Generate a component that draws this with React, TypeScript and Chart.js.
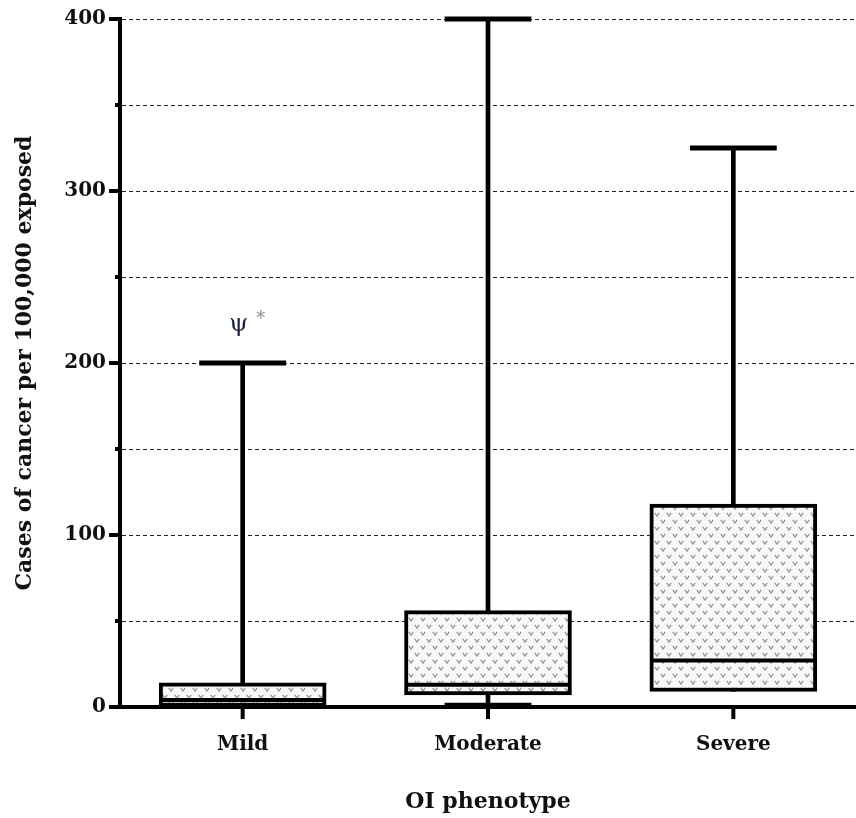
import { useEffect, useRef } from 'react';
import { Chart, registerables } from 'chart.js';

Chart.register(...registerables);

// Five-number summaries per OI phenotype (cases per 100,000 exposed)
const categories = ['Mild', 'Moderate', 'Severe'];
const minValues = [0, 1, 9];
const q1Values = [0, 7, 9];
const medianValues = [4, 13, 27];
const q3Values = [14, 56, 118];
const maxValues = [200, 400, 325];

// Axis settings
const yMin = 0;
const yMax = 400;
const yStep = 50;
const yLabelStep = 100;

// Significance markers above the Mild group
const annotationCategory = 0;
const annotationSymbol = 'ψ';
const annotationMark = '*';

const SERIF = "'DejaVu Serif', 'Liberation Serif', serif";

// Opaque light fill with small grey "v" marks for the interquartile boxes
function makeDotPattern(): CanvasPattern | string {
  const tile = document.createElement('canvas');
  tile.width = 12;
  tile.height = 14;
  const c = tile.getContext('2d');
  if (!c) return '#f2f2f2';
  c.fillStyle = '#f8f8f8';
  c.fillRect(0, 0, 12, 14);
  c.strokeStyle = '#9a9a9a';
  c.lineWidth = 1.4;
  const vee = (x: number, y: number) => {
    c.beginPath();
    c.moveTo(x - 2.2, y - 1.6);
    c.lineTo(x, y + 1.6);
    c.lineTo(x + 2.2, y - 1.6);
    c.stroke();
  };
  vee(3, 3.5);
  vee(9, 10.5);
  return c.createPattern(tile, 'repeat') || '#f2f2f2';
}

const boxExtras = {
  id: 'boxExtras',
  afterDatasetsDraw(chart: any) {
    const { ctx } = chart;
    const x = chart.scales.x;
    const y = chart.scales.y;
    const meta = chart.getDatasetMeta(0);
    ctx.save();
    ctx.strokeStyle = '#000';
    categories.forEach((_, i) => {
      const cx = x.getPixelForValue(i);
      const bar = meta.data[i];
      const half = bar.width / 2;
      const capHalf = half * 0.52;
      // whisker caps
      ctx.lineWidth = 5;
      ctx.lineCap = 'butt';
      [maxValues[i], minValues[i]].forEach((v) => {
        if (v < q1Values[i] || v > q3Values[i]) {
          const py = y.getPixelForValue(v);
          ctx.beginPath();
          ctx.moveTo(cx - capHalf, py);
          ctx.lineTo(cx + capHalf, py);
          ctx.stroke();
        }
      });
      // median
      ctx.lineWidth = 4;
      const my = y.getPixelForValue(medianValues[i]);
      ctx.beginPath();
      ctx.moveTo(cx - half + 2, my);
      ctx.lineTo(cx + half - 2, my);
      ctx.stroke();
    });

    // annotation over the first group
    const ax = x.getPixelForValue(annotationCategory);
    const ay = y.getPixelForValue(maxValues[annotationCategory]);
    ctx.textAlign = 'center';
    ctx.textBaseline = 'middle';
    ctx.font = `24px ${SERIF}`;
    ctx.fillStyle = '#18203a';
    ctx.fillText(annotationSymbol, ax - 4, ay - 38);
    ctx.font = `18px ${SERIF}`;
    ctx.fillStyle = '#8a8a8a';
    ctx.fillText(annotationMark, ax + 18, ay - 44);
    ctx.restore();
  },
  afterDraw(chart: any) {
    const { ctx, chartArea } = chart;
    const x = chart.scales.x;
    const y = chart.scales.y;
    ctx.save();
    ctx.strokeStyle = '#000';
    ctx.lineWidth = 4;
    for (let v = yMin; v <= yMax; v += yStep) {
      const py = y.getPixelForValue(v);
      const len = v % yLabelStep === 0 ? 11 : 5;
      ctx.beginPath();
      ctx.moveTo(chartArea.left - len, py);
      ctx.lineTo(chartArea.left, py);
      ctx.stroke();
    }
    categories.forEach((_, i) => {
      const px = x.getPixelForValue(i);
      ctx.beginPath();
      ctx.moveTo(px, chartArea.bottom);
      ctx.lineTo(px, chartArea.bottom + 12);
      ctx.stroke();
    });
    ctx.restore();
  },
};

export default function App() {
  const canvasRef = useRef<HTMLCanvasElement | null>(null);

  useEffect(() => {
    const canvas = canvasRef.current;
    if (!canvas) return;
    const pattern = makeDotPattern();
    const boxRanges = categories.map((_, i) => [q1Values[i], q3Values[i]]);
    const whiskerRanges = categories.map((_, i) => [minValues[i], maxValues[i]]);

    const chart = new Chart(canvas, {
      type: 'bar',
      data: {
        labels: categories,
        datasets: [
          {
            label: 'IQR',
            data: boxRanges as any,
            backgroundColor: pattern as any,
            borderColor: '#000',
            borderWidth: 4,
            borderSkipped: false,
            barThickness: 167,
            grouped: false,
            order: 0,
          } as any,
          {
            label: 'Range',
            data: whiskerRanges as any,
            backgroundColor: '#000',
            borderWidth: 0,
            barThickness: 4,
            grouped: false,
            order: 1,
          } as any,
        ],
      },
      options: {
        responsive: false,
        animation: false,
        events: [],
        layout: { padding: { top: 19, right: -7, left: 0, bottom: 0 } },
        plugins: {
          legend: { display: false },
          tooltip: { enabled: false },
          title: { display: false },
        },
        scales: {
          x: {
            type: 'category',
            offset: true,
            grid: {
              display: true,
              drawOnChartArea: false,
              tickLength: 12,
              tickColor: 'rgba(0,0,0,0)',
            },
            border: { display: true, color: '#000', width: 4 },
            ticks: {
              color: '#111',
              padding: 14,
              font: { family: SERIF, size: 20, weight: 'bold' },
            },
            title: {
              display: true,
              text: 'OI phenotype',
              color: '#111',
              padding: { top: 0, bottom: 3 },
              font: { family: SERIF, size: 22, weight: 'bold' },
            },
            afterFit: (scale: any) => {
              scale.height = 111;
            },
          },
          y: {
            type: 'linear',
            min: yMin,
            max: yMax,
            z: 1,
            grid: {
              display: true,
              drawOnChartArea: true,
              color: '#222',
              lineWidth: 1,
              tickLength: 11,
              tickColor: 'rgba(0,0,0,0)',
            },
            border: { display: true, color: '#000', width: 4, dash: [4, 3] },
            ticks: {
              stepSize: yStep,
              color: '#111',
              padding: 3,
              font: { family: SERIF, size: 20, weight: 'bold' },
              callback: (v: any) => (Number(v) % yLabelStep === 0 ? String(v) : ''),
            },
            title: {
              display: true,
              text: 'Cases of cancer per 100,000 exposed',
              color: '#111',
              padding: { top: 12, bottom: 0 },
              font: { family: SERIF, size: 22, weight: 'bold' },
            },
            afterFit: (scale: any) => {
              scale.width = 120;
            },
          },
        },
      } as any,
      plugins: [boxExtras],
    });

    return () => chart.destroy();
  }, []);

  return (
    <div style={{ position: 'absolute', left: 0, top: 0, width: 856, height: 818, background: '#fff' }}>
      <canvas ref={canvasRef} width={856} height={818} style={{ display: 'block' }} />
    </div>
  );
}
